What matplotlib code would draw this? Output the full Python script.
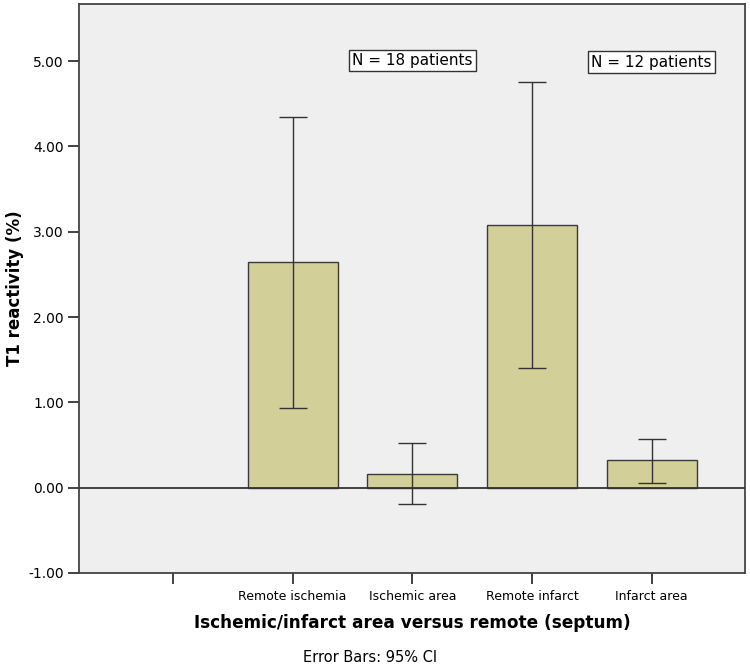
import matplotlib
matplotlib.use('Agg')
import matplotlib.pyplot as plt
import numpy as np

# data
categories = ['', 'Remote ischemia', 'Ischemic area', 'Remote infarct', 'Infarct area']
means = [np.nan, 2.64, 0.16, 3.08, 0.32]
ci_low = [np.nan, 0.93, -0.19, 1.40, 0.06]
ci_high = [np.nan, 4.35, 0.52, 4.76, 0.57]
yticks = [-1.0, 0.0, 1.0, 2.0, 3.0, 4.0, 5.0]
notes = ['N = 18 patients', 'N = 12 patients']
note_x = [2, 4]
note_y = [5.01, 4.99]

plt.rcParams['font.family'] = ['DejaVu Sans']

fig = plt.figure(figsize=(7.5, 6.7), dpi=100)
ax = fig.add_axes([79 / 750, 1 - 573 / 670, 666 / 750, 569 / 670])
ax.set_facecolor('#efefef')

x = np.arange(len(categories))
m = np.array(means)
lo = np.array(ci_low)
hi = np.array(ci_high)
ax.bar(x, m, width=0.75, color='#d3cf99', edgecolor='#3a3a3a', linewidth=1.0, zorder=2)
ax.errorbar(x, m, yerr=[m - lo, hi - m], fmt='none', ecolor='#333333',
            elinewidth=1.0, capsize=10, capthick=1.0, zorder=3)
ax.axhline(0, color='#333333', linewidth=1.3, zorder=4)

ax.set_xlim(-0.785, 4.78)
ax.set_ylim(-1.0, 5.67)
ax.set_yticks(yticks)
ax.set_yticklabels(['%.2f' % v for v in yticks], fontsize=10)
ax.set_xticks(x)
ax.set_xticklabels(categories, fontsize=9)
ax.tick_params(axis='both', direction='out', length=8, width=1.3, color='#333333')
ax.tick_params(axis='x', pad=4)
ax.tick_params(axis='y', pad=3)
for s in ax.spines.values():
    s.set_color('#444444')
    s.set_linewidth(1.3)

for nx, ny, txt in zip(note_x, note_y, notes):
    ax.text(nx, ny, txt, fontsize=11, ha='center', va='center',
            bbox=dict(boxstyle='square,pad=0.2', facecolor='white', edgecolor='#333333', linewidth=1))

fig.text(15 / 750, 1 - 288 / 670, 'T1 reactivity (%)', fontsize=12, fontweight='bold',
         rotation=90, ha='center', va='center')
fig.text(412 / 750, 1 - 623 / 670, 'Ischemic/infarct area versus remote (septum)',
         fontsize=12.2, fontweight='bold', ha='center', va='center')
fig.text(370 / 750, 1 - 657 / 670, 'Error Bars: 95% CI', fontsize=10.5, ha='center', va='center')

fig.savefig('out.png', dpi=100)
